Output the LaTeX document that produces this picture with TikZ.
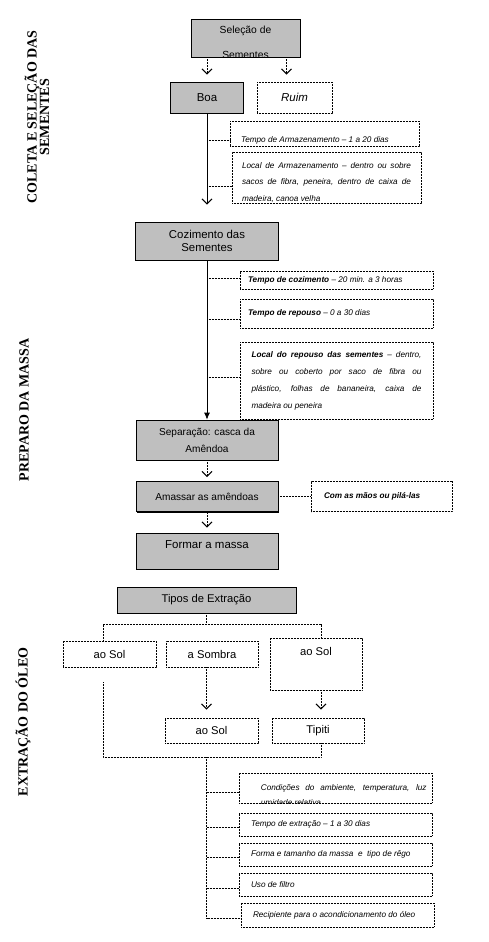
\documentclass[tikz,border=0pt]{standalone}
\usepackage{fontspec}
\setmainfont{Liberation Sans}
\newfontfamily\sectfont{Liberation Serif}
\usetikzlibrary{arrows.meta, shadows}
\hyphenpenalty=10000

\begin{document}
\begin{tikzpicture}[x=1pt, y=-1pt,
    boxsize/.style 2 args={minimum width=#1pt, minimum height=#2pt},
    fine dots/.style={dash pattern=on 0.7pt off 0.8pt, line width=0.75pt},
    graybox/.style={draw, line width=0.8pt, fill=gray!50, inner sep=0pt, align=center,
      drop shadow={shadow xshift=0.8pt, shadow yshift=-1pt, fill=black, opacity=1},
      font=\fontsize{11.4}{13}\selectfont},
    dotbox/.style={draw, fine dots, inner sep=0pt, align=center,
      font=\fontsize{11.2}{13}\selectfont},
    notebox/.style={draw, fine dots, inner ysep=0pt,
      text width=#1pt, align=justify, font=\fontsize{8.2}{17}\selectfont\itshape},
    dotline/.style={fine dots},
    vee/.style={-{Straight Barb[length=5pt, width=10pt, line width=1pt]}},
    sect/.style={rotate=90, align=center, font=\sectfont\bfseries\fontsize{14}{12.5}\selectfont}]

    % frame of the page
    \path[use as bounding box, fill=white] (0,0) rectangle (488,942);

    % section titles
    \node[sect] (sect1) at (37,117) {COLETA E SELEÇÃO DAS\\SEMENTES};
    \node[sect] (sect2) at (24,410) {PREPARO DA MASSA};
    \node[sect] (sect3) at (23,722) {EXTRAÇÃO DO ÓLEO};

    % coleta e selecao
    \node[graybox, boxsize={109}{38}, path picture={
        \node[anchor=base, font=\fontsize{10.3}{12}\selectfont] (sel-a)
          at ([yshift=4pt]path picture bounding box.center) {Seleção de};
        \node[anchor=base, font=\fontsize{10.3}{12}\selectfont] (sel-b)
          at ([yshift=-21pt]path picture bounding box.center) {Sementes};
      }] (sel) at (245.5,38) {};
    \node[graybox, boxsize={73}{31}, font=\fontsize{11.5}{13}\selectfont] (boa) at (207,97.5) {Boa};
    \node[dotbox, boxsize={75}{31}, font=\fontsize{11.5}{13}\selectfont\itshape] (ruim) at (294.5,97.5) {Ruim};
    \node[notebox=167, inner xsep=11pt, boxsize={189}{25}] (tarm) at (324.5,133.5)
      {\rule{0pt}{19pt}Tempo de Armazenamento – 1 a 20 dias};
    \node[notebox=169, inner xsep=10pt, boxsize={189}{51}, font=\fontsize{8.2}{16.5}\selectfont\itshape]
      (larm) at (326.5,177.5)
      {\rule{0pt}{16pt}Local de Armazenamento – dentro ou sobre\linebreak
       sacos de fibra, peneira, dentro de caixa de\linebreak madeira, canoa velha};

    % preparo da massa
    \node[graybox, boxsize={143}{38}] (coz) at (207,241) {Cozimento das\\Sementes};
    \node[notebox=177, inner xsep=8pt, boxsize={193}{18}] (tcoz) at (336.5,280)
      {\textbf{Tempo de cozimento} – 20 min. a 3 horas};
    \node[notebox=177, inner xsep=8pt, boxsize={193}{29}] (trep) at (336.5,313.5)
      {\textbf{Tempo de repouso} – 0 a 30 dias};
    \node[notebox=170, inner xsep=11.5pt, boxsize={193}{77}] (lrep) at (336.5,380.5)
      {\textbf{Local do repouso das sementes} – dentro,\linebreak
       sobre ou coberto por saco de fibra ou\linebreak
       plástico, folhas de bananeira, caixa de\linebreak madeira ou peneira};
    \node[graybox, boxsize={142}{40}, font=\fontsize{10.1}{17}\selectfont] (sep) at (207,440)
      {Separação: casca da\\Amêndoa};
    \node[graybox, boxsize={142}{30}, font=\fontsize{10.1}{12}\selectfont] (ama) at (207,496.5)
      {Amassar as amêndoas};
    \node[notebox=115, inner xsep=13pt, boxsize={141}{30}] (mao) at (381.5,496.5)
      {\textbf{Com as mãos ou pilá-las}};
    \node[graybox, boxsize={142}{36}, font=\fontsize{11.5}{13}\selectfont,
      text height=8.2pt, text depth=14pt] (form) at (207,551) {Formar a massa};

    % extracao do oleo
    \node[graybox, boxsize={179}{26}, font=\fontsize{11.2}{13}\selectfont] (tipos) at (206.5,600)
      {Tipos de Extração};
    \node[dotbox, boxsize={93}{26}] (sol1) at (109.5,654) {ao Sol};
    \node[dotbox, boxsize={92}{26}] (somb) at (212,654) {a Sombra};
    \node[dotbox, boxsize={92}{52}, text height=8pt, text depth=25pt] (sol3) at (316,664) {ao Sol};
    \node[dotbox, boxsize={93}{25}] (sol2) at (211.5,730.5) {ao Sol};
    \node[dotbox, boxsize={92}{25}] (tipiti) at (318,730.5) {Tipiti};
    \node[draw, fine dots, boxsize={193}{30}, path picture={
        \node[anchor=base west, inner sep=0pt, font=\fontsize{8.2}{15.5}\selectfont\itshape] (cond-t)
          at ([xshift=-83.5pt, yshift=-2pt]path picture bounding box.center)
          {\parbox[t]{176pt}{Condições do ambiente, temperatura, luz e\linebreak umidade relativa}};
      }] (cond) at (335.5,788) {};
    \node[notebox=169, inner xsep=12pt, boxsize={193}{23}] (text) at (335.5,824.5)
      {Tempo de extração – 1 a 30 dias};
    \node[notebox=169, inner xsep=12pt, boxsize={193}{23}] (fmas) at (335.5,854.5)
      {Forma e tamanho da massa \ e \ tipo de rêgo};
    \node[notebox=169, inner xsep=12pt, boxsize={193}{23}] (filt) at (335.5,884.5)
      {Uso de filtro};
    \node[notebox=169, inner xsep=12pt, boxsize={193}{24}] (reci) at (337.5,915)
      {Recipiente para o acondicionamento do óleo};

    % arrows of the first part
    \draw[dotline, vee, shorten >=7pt] (sel.south -| boa.north) -- (boa.north);
    \draw[dotline, vee, shorten >=7pt] ([xshift=-8pt]sel.south -| ruim.north) -- ([xshift=-8pt]ruim.north);
    \draw[line width=0.8pt, vee, shorten >=17pt] (boa.south) -- (boa.south |- coz.north);
    \foreach \n/\d in {tarm/-6.5, larm/-8.5} {
        \coordinate (\n-in) at ([yshift=\d pt]\n.west);
        \draw[dotline] (boa.south |- \n-in) -- (\n-in);
      }

    % arrows of the second part
    \draw[line width=0.8pt, -{Latex[length=7pt, width=6pt]}] (coz.south) -- (sep.north);
    \foreach \n/\d in {tcoz/2, trep/-5.5, lrep/3.5} {
        \coordinate (\n-in) at ([yshift=\d pt]\n.west);
        \draw[dotline] (coz.south |- \n-in) -- (\n-in);
      }
    \draw[dotline, vee, shorten >=4pt] (sep.south) -- (ama.north);
    \draw[dotline] (ama.east) -- (mao.west);
    \draw[dotline, vee, shorten >=5pt] (ama.south) -- (form.north);

    % branches of the third part
    \coordinate (j1) at (103,624);
    \coordinate (j3) at (321,624);
    \coordinate (g1) at (103,682);
    \coordinate (j4) at (103,757);
    \draw[dotline] (tipos.south) -- (tipos.south |- j1);
    \draw[dotline] (j1 |- sol1.north) -- (j1) -- (j3) -- (j3 |- sol3.north);
    \draw[dotline, vee, shorten >=8pt] (tipos.south |- somb.south) -- (tipos.south |- sol2.north);
    \draw[dotline, vee, shorten >=8pt] (j3 |- sol3.south) -- (j3 |- tipiti.north);
    \draw[dotline] (g1) -- (j4) -- (j4 -| j3) -- (j3 |- tipiti.south);
    \foreach \n/\d in {cond/-4, text/-2.5, fmas/-2.5, filt/-3.5, reci/-3} {
        \coordinate (\n-in) at ([yshift=\d pt]\n.west);
      }
    \draw[dotline] (tipos.south |- j4) -- (tipos.south |- reci-in) -- (reci-in);
    \foreach \n in {cond, text, fmas, filt} {
        \draw[dotline] (tipos.south |- \n-in) -- (\n-in);
      }
\end{tikzpicture}
\end{document}
